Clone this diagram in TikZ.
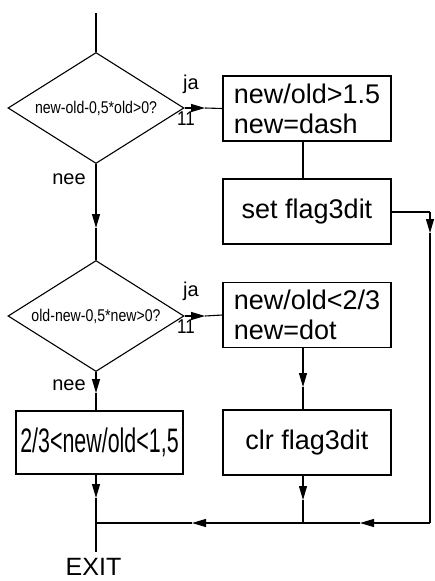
\documentclass[tikz,border=0pt]{standalone}
\usepackage{fontspec}
\setmainfont{Liberation Sans}
\newfontfamily\narrowA[FakeStretch=0.83]{Liberation Sans}
\newfontfamily\narrowB[FakeStretch=0.63]{Liberation Sans}
\newfontfamily\narrowC[FakeStretch=0.85]{Liberation Sans}
\usetikzlibrary{shapes.geometric,arrows.meta}
\begin{document}
\begin{tikzpicture}[x=1pt,y=-1pt,
  ln/.style={line width=1.1pt},
  arr/.style={ln,-{Triangle[length=14pt,width=8pt]}},
  box/.style={draw,ln,rectangle,inner sep=0pt,minimum width=168pt,minimum height=65pt,font=\fontsize{27}{30}\selectfont,align=left},
  dia/.style={draw,ln,diamond,inner sep=0pt,aspect=1.586,minimum width=176pt,minimum height=111pt,font=\narrowA\fontsize{17}{20}\selectfont},
  lbl/.style={inner sep=0pt,font=\fontsize{20}{22}\selectfont},
  num/.style={inner sep=0pt,font=\narrowC\fontsize{20}{22}\selectfont}
]
\useasboundingbox (0,0) rectangle (434,581);
\fill[white] (0,0) rectangle (434,581);

\coordinate (start) at (96,13);
\node[dia] (d1) at (96,108) {new-old-0,5*old>0?};
\node[dia] (d2) at (96,316) {old-new-0,5*new>0?};
\node[box] (b1) at (307,108.5) {new/old>1.5\\new=dash};
\node[box] (b2) at (307,211.5) {set flag3dit};
\node[box] (b3) at (307,315) {new/old<2/3\\new=dot};
\node[box] (b5) at (307,442.5) {clr flag3dit};
\node[box,minimum width=167pt,minimum height=63pt,font=\narrowB\fontsize{34}{36}\selectfont] (b4) at (99.5,442.5) {2/3<new/old<1,5};
\node[inner sep=0pt,font=\fontsize{25}{27}\selectfont] (exit) at (93.5,567) {EXIT};

\node[lbl] (ja1) at (191,84) {ja};
\node[lbl] (ja2) at (191,291) {ja};
\node[num] (e1) at (186,119) {11};
\node[num] (e2) at (186,327) {11};
\node[lbl] (nee1) at (69,179) {nee};
\node[lbl] (nee2) at (69,385) {nee};

% tips and corners
\coordinate (t1) at (205,108);
\coordinate (t2) at (96,228);
\coordinate (t3) at (205,316);
\coordinate (t4) at (96,393);
\coordinate (t5) at (303,387);
\coordinate (t6) at (303,500);
\coordinate (t7) at (96,498);
\coordinate (r1) at (430,212);
\coordinate (t8) at (430,233);
\coordinate (r2) at (430,523);
\coordinate (t9) at (360,523);
\coordinate (j1) at (303,523);
\coordinate (t10) at (192,523);
\coordinate (j2) at (96,523);
\coordinate (ex) at (96,552);

\draw[ln] (start) -- (d1.north);
\draw[arr] (d1.east) -- (t1);
\draw[ln] (t1) -- (b1.west);
\draw[ln] ([xshift=-4pt]b1.south) -- ([xshift=-4pt]b2.north);
\draw[arr] (d1.south) -- (t2);
\draw[ln] (t2) -- (d2.north);
\draw[arr] (d2.east) -- (t3);
\draw[ln] (t3) -- (b3.west);
\draw[arr] ([xshift=-4pt]b3.south) -- (t5);
\draw[ln] (t5) -- ([xshift=-4pt]b5.north);
\draw[arr] ([xshift=-4pt]b5.south) -- (t6);
\draw[ln] (t6) -- (j1);
\draw[arr] (d2.south) -- (t4);
\draw[ln] (t4) -- ([xshift=-3.5pt]b4.north);
\draw[arr] ([xshift=-3.5pt]b4.south) -- (t7);
\draw[ln] (t7) -- (j2) -- (ex);
\draw[ln] (b2.east |- r1) -- (r1);
\draw[arr] (r1) -- (t8);
\draw[ln] (t8) -- (r2);
\draw[arr] (r2) -- (t9);
\draw[ln] (t9) -- (j1);
\draw[arr] (j1) -- (t10);
\draw[ln] (t10) -- (j2);
\end{tikzpicture}
\end{document}
